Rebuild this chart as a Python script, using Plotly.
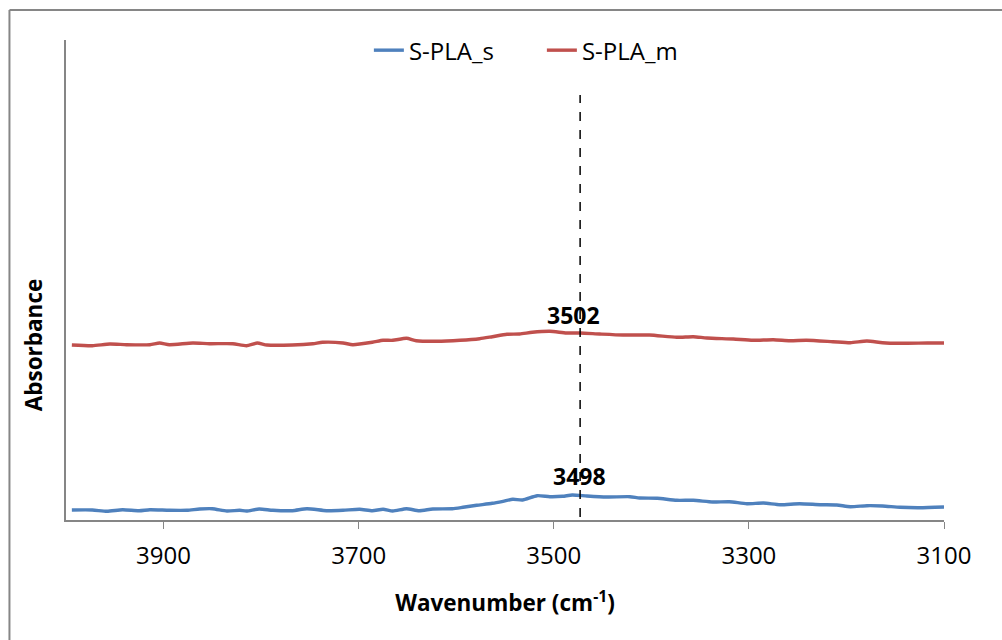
import plotly.graph_objects as go

# Wavenumbers (cm^-1) and absorbance (arbitrary units)
wn_s = [3994, 3973, 3958, 3942, 3925, 3914, 3894, 3876, 3863, 3850, 3835, 3822, 3815,
        3802, 3788, 3768, 3753, 3733, 3716, 3699, 3686, 3675, 3665, 3651, 3638, 3624,
        3604, 3593, 3579, 3563, 3552, 3542, 3532, 3517, 3504, 3491, 3481, 3466, 3446,
        3422, 3412, 3394, 3374, 3357, 3337, 3320, 3302, 3285, 3268, 3248, 3227, 3210,
        3196, 3179, 3163, 3145, 3125, 3100]
abs_s = [0.0100, 0.0100, 0.0087, 0.0103, 0.0093, 0.0103, 0.0097, 0.0097, 0.0110, 0.0113,
         0.0090, 0.0097, 0.0090, 0.0110, 0.0097, 0.0093, 0.0113, 0.0093, 0.0097, 0.0107,
         0.0093, 0.0107, 0.0090, 0.0113, 0.0093, 0.0110, 0.0113, 0.0127, 0.0147, 0.0167,
         0.0187, 0.0207, 0.0200, 0.0243, 0.0233, 0.0237, 0.0250, 0.0240, 0.0230, 0.0233,
         0.0220, 0.0217, 0.0197, 0.0197, 0.0180, 0.0183, 0.0163, 0.0170, 0.0153, 0.0163,
         0.0153, 0.0150, 0.0133, 0.0143, 0.0140, 0.0127, 0.0123, 0.0130]

wn_m = [3994, 3973, 3955, 3938, 3914, 3904, 3894, 3870, 3853, 3829, 3815, 3804, 3794,
        3768, 3747, 3737, 3716, 3706, 3686, 3675, 3665, 3651, 3641, 3620, 3596, 3576,
        3563, 3548, 3535, 3522, 3504, 3487, 3473, 3453, 3429, 3402, 3374, 3357, 3343,
        3316, 3296, 3275, 3258, 3241, 3214, 3196, 3179, 3163, 3145, 3117, 3100]
abs_m = [0.1750, 0.1743, 0.1760, 0.1753, 0.1753, 0.1770, 0.1753, 0.1770, 0.1763, 0.1763,
         0.1743, 0.1770, 0.1750, 0.1750, 0.1763, 0.1777, 0.1770, 0.1753, 0.1777, 0.1797,
         0.1797, 0.1817, 0.1793, 0.1787, 0.1797, 0.1813, 0.1833, 0.1857, 0.1860, 0.1877,
         0.1887, 0.1870, 0.1870, 0.1860, 0.1850, 0.1850, 0.1827, 0.1833, 0.1820, 0.1810,
         0.1797, 0.1803, 0.1793, 0.1797, 0.1783, 0.1773, 0.1790, 0.1773, 0.1767, 0.1770,
         0.1770]

series_names = ["S-PLA_s", "S-PLA_m"]
series_colors = ["#4F81BD", "#C0504D"]

x_ticks = [3900, 3700, 3500, 3300, 3100]
marker_x = 3473
peak_labels = ["3502", "3498"]
peak_label_x = [3480, 3474]
peak_label_y = [0.205, 0.0445]

FONT = "Open Sans"
AXIS_GRAY = "#868686"

fig = go.Figure()
for wn, ab, name, col in [(wn_s, abs_s, series_names[0], series_colors[0]),
                          (wn_m, abs_m, series_names[1], series_colors[1])]:
    fig.add_trace(go.Scatter(x=wn, y=ab, mode="lines", name=name,
                             line=dict(color=col, width=3.4, shape="spline", smoothing=0.6)))

# dashed marker line
fig.add_shape(type="line", x0=marker_x, x1=marker_x, y0=0.003, y1=0.425,
              xref="x", yref="y", line=dict(color="black", width=1.5, dash="dash"))

for txt, xx, yy in zip(peak_labels, peak_label_x, peak_label_y):
    fig.add_annotation(x=xx, y=yy, text=f"<b>{txt}</b>", showarrow=False,
                       font=dict(family=FONT, size=23, color="black"),
                       xanchor="center", yanchor="middle")

# y-axis title (placed as in the reference, below the plot centre)
fig.add_annotation(xref="paper", yref="paper", x=-0.0376, y=0.366,
                   text="<b>Absorbance</b>", textangle=-90, showarrow=False,
                   font=dict(family=FONT, size=22.5, color="black"),
                   xanchor="center", yanchor="middle")

# outer chart border (only the left and top edges fall inside the window)
fig.add_shape(type="line", xref="paper", yref="paper",
              x0=-0.0644, x1=-0.0644, y0=-0.5, y1=1.0625,
              line=dict(color=AXIS_GRAY, width=2), layer="below")
fig.add_shape(type="line", xref="paper", yref="paper",
              x0=-0.0644, x1=1.3, y0=1.0625, y1=1.0625,
              line=dict(color=AXIS_GRAY, width=2), layer="below")

fig.update_layout(
    width=1002, height=640,
    margin=dict(l=66, r=58, t=40, b=120),
    paper_bgcolor="white", plot_bgcolor="white",
    font=dict(family=FONT, size=24, color="black"),
    showlegend=True,
    legend=dict(orientation="h", x=0.542, xanchor="center", y=0.978, yanchor="middle",
                font=dict(family=FONT, size=24, color="black"),
                bgcolor="rgba(0,0,0,0)", entrywidth=128, entrywidthmode="pixels",
                traceorder="normal"),
    xaxis=dict(range=[4000, 3100], tickvals=x_ticks, ticktext=[str(t) for t in x_ticks],
               showgrid=False, zeroline=False, showline=True, linecolor=AXIS_GRAY,
               linewidth=1.5, ticks="outside", ticklen=7, tickcolor=AXIS_GRAY,
               ticklabelstandoff=6,
               tickfont=dict(family=FONT, size=24, color="black"),
               title=dict(text="<b>Wavenumber (cm<sup>-1</sup>)</b>", standoff=26,
                          font=dict(family=FONT, size=22.5, color="black"))),
    yaxis=dict(range=[0, 0.48], showgrid=False, zeroline=False, showline=True,
               linecolor=AXIS_GRAY, linewidth=1.5, showticklabels=False, ticks=""),
)

fig.write_html("out.html")
